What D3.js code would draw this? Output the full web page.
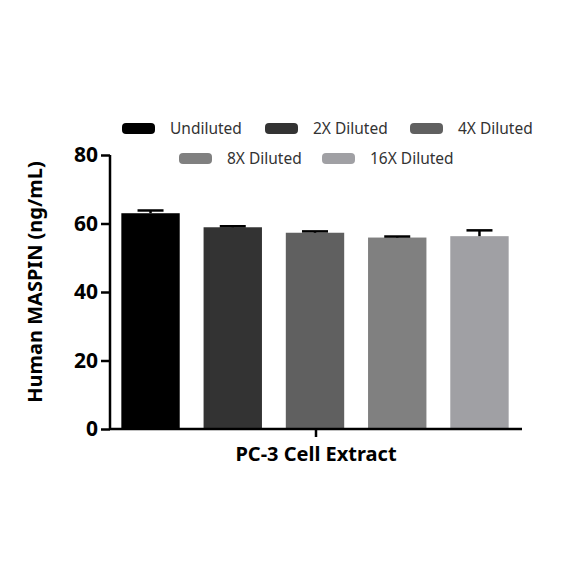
<!DOCTYPE html>
<html>
<head>
<meta charset="utf-8">
<script src="https://cdn.jsdelivr.net/npm/d3@7"></script>
<style>
  body { margin: 0; background: #fff; }
  svg text { font-family: "Noto Sans", "DejaVu Sans", sans-serif; }
</style>
</head>
<body>
<div id="chart"></div>
<script>
// data ---------------------------------------------------------------
const categories = ['Undiluted', '2X Diluted', '4X Diluted', '8X Diluted', '16X Diluted'];
const values = [63.0, 58.9, 57.3, 55.9, 56.3];
const errors = [0.8, 0.3, 0.4, 0.3, 1.7];
const colors = ['#000000', '#333333', '#606060', '#808080', '#a0a0a4'];
const yTicks = [0, 20, 40, 60, 80];
const groupLabel = 'PC-3 Cell Extract';
const yTitle = 'Human MASPIN (ng/mL)';

// svg -------------------------------------------------------------------
const width = 584;
const height = 584;
const svg = d3.select('#chart').append('svg')
  .attr('width', width)
  .attr('height', height);

const x0 = 110, x1 = 522;
const yScale = d3.scaleLinear().domain([0, 80]).range([429, 155]);
const xScale = d3.scaleBand().domain(categories).range([x0 - 1, x1 - 1]).paddingInner(0.29).paddingOuter(0.15);

// bars ------------------------------------------------------------------
svg.append('g')
  .selectAll('rect')
  .data(categories)
  .enter()
  .append('rect')
  .attr('x', d => xScale(d))
  .attr('y', (d, i) => yScale(values[i]))
  .attr('width', xScale.bandwidth())
  .attr('height', (d, i) => yScale(0) - yScale(values[i]))
  .attr('fill', (d, i) => colors[i]);

// error bars
const eb = svg.append('g').attr('stroke', '#000').attr('stroke-width', 2.5);
categories.forEach((c, i) => {
  const cx = xScale(c) + xScale.bandwidth() / 2;
  const top = yScale(values[i] + errors[i]);
  eb.append('line')
    .attr('x1', cx).attr('x2', cx)
    .attr('y1', yScale(values[i])).attr('y2', top);
  eb.append('line')
    .attr('x1', cx - 13).attr('x2', cx + 13)
    .attr('y1', top).attr('y2', top);
});

// axes ------------------------------------------------------------------
const yAxis = svg.append('g')
  .attr('transform', 'translate(' + x0 + ',0)')
  .call(d3.axisLeft(yScale).tickValues(yTicks).tickSize(9).tickPadding(3));
yAxis.select('.domain').attr('stroke', '#000').attr('stroke-width', 2.5)
  .attr('d', 'M0,' + yScale(80) + 'V' + yScale(0));
yAxis.selectAll('.tick line').attr('stroke', '#000').attr('stroke-width', 2.5);
yAxis.selectAll('.tick text')
  .attr('font-size', '21px')
  .attr('font-weight', 'bold')
  .attr('fill', '#000');

const xa = svg.append('g');
xa.append('line')
  .attr('x1', x0).attr('x2', x1)
  .attr('y1', yScale(0)).attr('y2', yScale(0))
  .attr('stroke', '#000').attr('stroke-width', 2.5);
const midX = (x0 + x1) / 2;
xa.append('line')
  .attr('x1', midX).attr('x2', midX)
  .attr('y1', yScale(0)).attr('y2', yScale(0) + 8)
  .attr('stroke', '#000').attr('stroke-width', 2.5);
xa.append('text')
  .attr('x', midX)
  .attr('y', 461)
  .attr('text-anchor', 'middle')
  .attr('font-size', '20px')
  .attr('font-weight', 'bold')
  .text(groupLabel);

svg.append('text')
  .attr('transform', 'translate(42,282) rotate(-90)')
  .attr('text-anchor', 'middle')
  .attr('font-size', '20px')
  .attr('font-weight', 'bold')
  .text(yTitle);

// legend ---------------------------------------------------------------
const legendPos = [[122, 128], [265, 128], [410, 128], [179, 158], [322, 158]];
const lg = svg.append('g')
  .selectAll('g')
  .data(categories)
  .enter()
  .append('g')
  .attr('transform', (d, i) => 'translate(' + legendPos[i][0] + ',' + legendPos[i][1] + ')');
lg.append('rect')
  .attr('x', 0).attr('y', -5)
  .attr('width', 33).attr('height', 11)
  .attr('rx', 4)
  .attr('fill', (d, i) => colors[i]);
lg.append('text')
  .attr('x', 48)
  .attr('y', 5.5)
  .attr('font-size', '15.5px')
  .attr('fill', '#333')
  .text(d => d);
</script>
</body>
</html>
